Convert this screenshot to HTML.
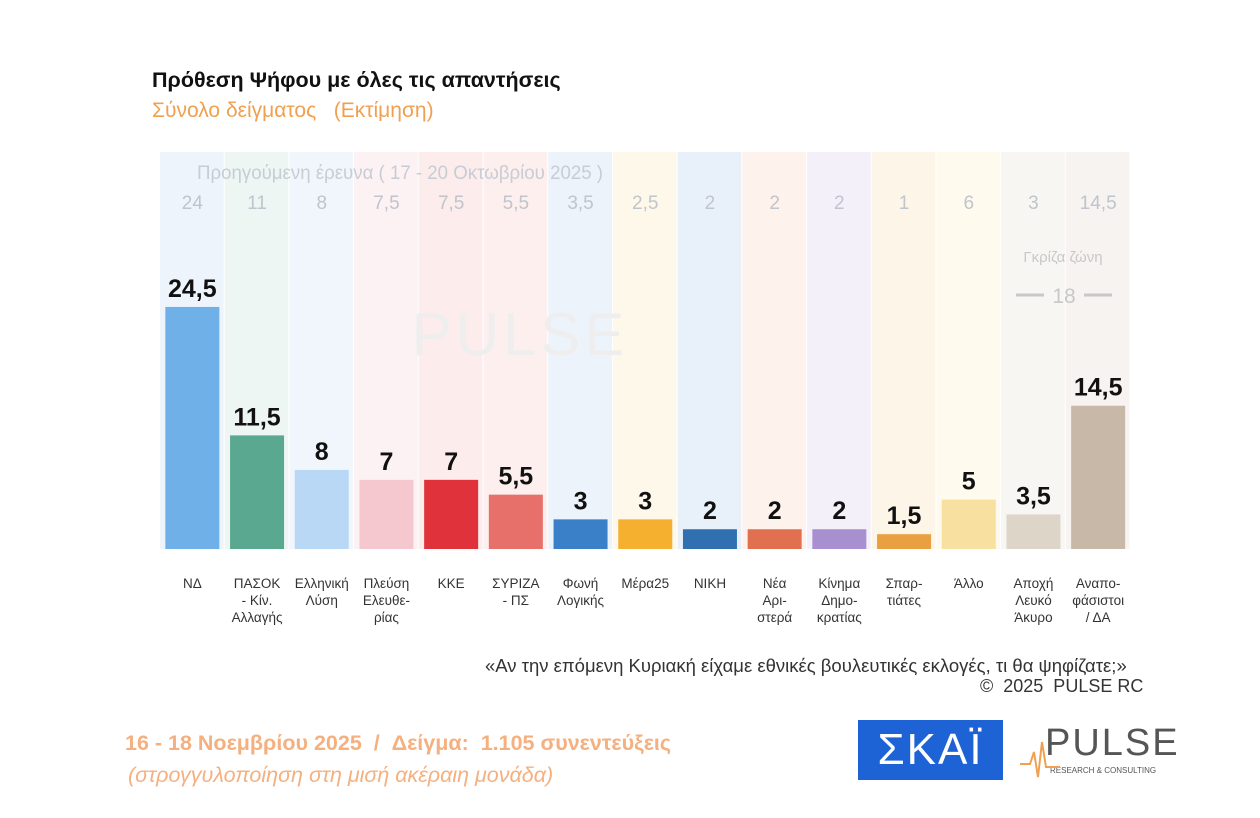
<!DOCTYPE html>
<html><head><meta charset="utf-8"><style>
body{margin:0;width:1260px;height:818px;background:#fff;font-family:"Liberation Sans","Noto Sans CJK SC",sans-serif;position:relative;overflow:hidden}
.abs{position:absolute;white-space:nowrap}
</style></head><body>
<div class="abs" style="left:152px;top:68px;font-size:21.5px;font-weight:bold;color:#111">Πρόθεση Ψήφου με όλες τις απαντήσεις</div>
<div class="abs" style="left:152px;top:99px;font-size:21px;color:#f0a050">Σύνολο δείγματος &nbsp;&nbsp;(Εκτίμηση)</div>
<svg class="abs" style="left:0;top:0" width="1260" height="818" id="chart"></svg>
<div class="abs" style="left:485px;top:655px;font-size:18.5px;color:#333">«Αν την επόμενη Κυριακή είχαμε εθνικές βουλευτικές εκλογές, τι θα ψηφίζατε;»</div>
<div class="abs" style="left:980px;top:676px;font-size:18px;color:#333">© &nbsp;2025 &nbsp;PULSE RC</div>
<div class="abs" style="left:125px;top:731px;font-size:21.5px;font-weight:bold;color:#f5b080">16 - 18 Νοεμβρίου 2025 &nbsp;/ &nbsp;Δείγμα: &nbsp;1.105 συνεντεύξεις</div>
<div class="abs" style="left:128px;top:763px;font-size:21.5px;font-style:italic;color:#f5b080">(στρογγυλοποίηση στη μισή ακέραιη μονάδα)</div>
<div class="abs" style="left:858px;top:720px;width:145px;height:60px;background:#1e63d6;color:#fff;font-size:44px;text-align:center;line-height:60px;letter-spacing:2px">ΣΚΑΪ</div>
<div class="abs" style="left:1020px;top:722px;width:160px;height:60px">
<div style="position:absolute;left:25px;top:0;font-size:38px;color:#555;letter-spacing:2px">PULSE</div>
<div style="position:absolute;left:30px;top:44px;font-size:8px;color:#555">RESEARCH &amp; CONSULTING</div>
<svg width="40" height="60" style="position:absolute;left:0;top:0"><polyline points="0,42 10,42 14,30 18,55 22,20 26,45 40,45" fill="none" stroke="#f0a050" stroke-width="2"/></svg>
</div>
<script>
const parties=["ΝΔ","ΠΑΣΟΚ - Κίν. Αλλαγής","Ελληνική Λύση","Πλεύση Ελευθερίας","ΚΚΕ","ΣΥΡΙΖΑ - ΠΣ","Φωνή Λογικής","Μέρα25","ΝΙΚΗ","Νέα Αριστερά","Κίνημα Δημοκρατίας","Σπαρτιάτες","Άλλο","Αποχή Λευκό Άκυρο","Αναποφάσιστοι / ΔΑ"];
const labelLines=[["ΝΔ"],["ΠΑΣΟΚ","- Κίν.","Αλλαγής"],["Ελληνική","Λύση"],["Πλεύση","Ελευθε-","ρίας"],["ΚΚΕ"],["ΣΥΡΙΖΑ","- ΠΣ"],["Φωνή","Λογικής"],["Μέρα25"],["ΝΙΚΗ"],["Νέα","Αρι-","στερά"],["Κίνημα","Δημο-","κρατίας"],["Σπαρ-","τιάτες"],["Άλλο"],["Αποχή","Λευκό","Άκυρο"],["Αναπο-","φάσιστοι","/ ΔΑ"]];
const current=[24.5,11.5,8,7,7,5.5,3,3,2,2,2,1.5,5,3.5,14.5];
const previous=["24","11","8","7,5","7,5","5,5","3,5","2,5","2","2","2","1","6","3","14,5"];
const colors=["#6fb0e8","#5aa890","#b8d8f5","#f5c8d0","#e0323a","#e8706a","#3a80c8","#f5b030","#3070b0","#e07050","#a890d0","#e8a040","#f8e0a0","#ddd5c8","#c8b8a8"];
const bands=["#eef4fb","#eef6f3","#f1f6fc","#fcf1f3","#fcecec","#fcefee","#ecf3fb","#fef8ea","#e8f1fa","#fdf2ec","#f4f0fa","#fdf5e8","#fefaee","#f8f6f3","#f6f3f0"];
const svg=document.getElementById('chart');const NS='http://www.w3.org/2000/svg';
const x0=160,colW=64.7,base=549,scale=9.88,barW=54;
const xc=i=>x0+colW*i+colW/2;
const y=v=>base-v*scale;
function mk(t,a,txt){const e=document.createElementNS(NS,t);for(const k in a)e.setAttribute(k,a[k]);if(txt!==undefined)e.textContent=txt;svg.appendChild(e);return e;}
current.forEach((v,i)=>{
 const b=mk('rect',{x:x0+colW*i,y:152,width:colW-1,height:base-152,fill:bands[i]});
 
 
});
const hdr=mk('text',{x:400,y:179,'text-anchor':'middle','font-size':19,fill:'#c8ccd4',textLength:406,lengthAdjust:'spacingAndGlyphs'},'Προηγούμενη έρευνα ( 17 - 20 Οκτωβρίου 2025 )');


const gz=mk('text',{x:1063,y:262,'text-anchor':'middle','font-size':15,fill:'#c8c8c8'},'Γκρίζα ζώνη');


const gzv=mk('text',{x:1064,y:303,'text-anchor':'middle','font-size':21,fill:'#c8c8c8'},'18');


mk('line',{x1:1016,y1:295,x2:1044,y2:295,stroke:'#c8c8c8','stroke-width':3});
mk('line',{x1:1084,y1:295,x2:1112,y2:295,stroke:'#c8c8c8','stroke-width':3});
const w=mk('text',{x:520,y:355,'text-anchor':'middle','font-size':60,fill:'#eeeeee','letter-spacing':4},'PULSE');


current.forEach((v,i)=>{
 const p=mk('text',{x:xc(i),y:209,'text-anchor':'middle','font-size':19,fill:'#c0c4cc'},previous[i]);
 
 
 const r=mk('rect',{x:xc(i)-barW/2,y:y(v),width:barW,height:v*scale,fill:colors[i]});
 
 
 const t=mk('text',{x:xc(i),y:y(v)-10,'text-anchor':'middle','font-size':25,'font-weight':'bold',fill:'#111'},String(v).replace('.',','));
 
 
 labelLines[i].forEach((ln,j)=>{
  const l=mk('text',{x:xc(i),y:588+j*17,'text-anchor':'middle','font-size':13.5,fill:'#333'},ln);
  
  
 });
});
</script>
</body></html>
